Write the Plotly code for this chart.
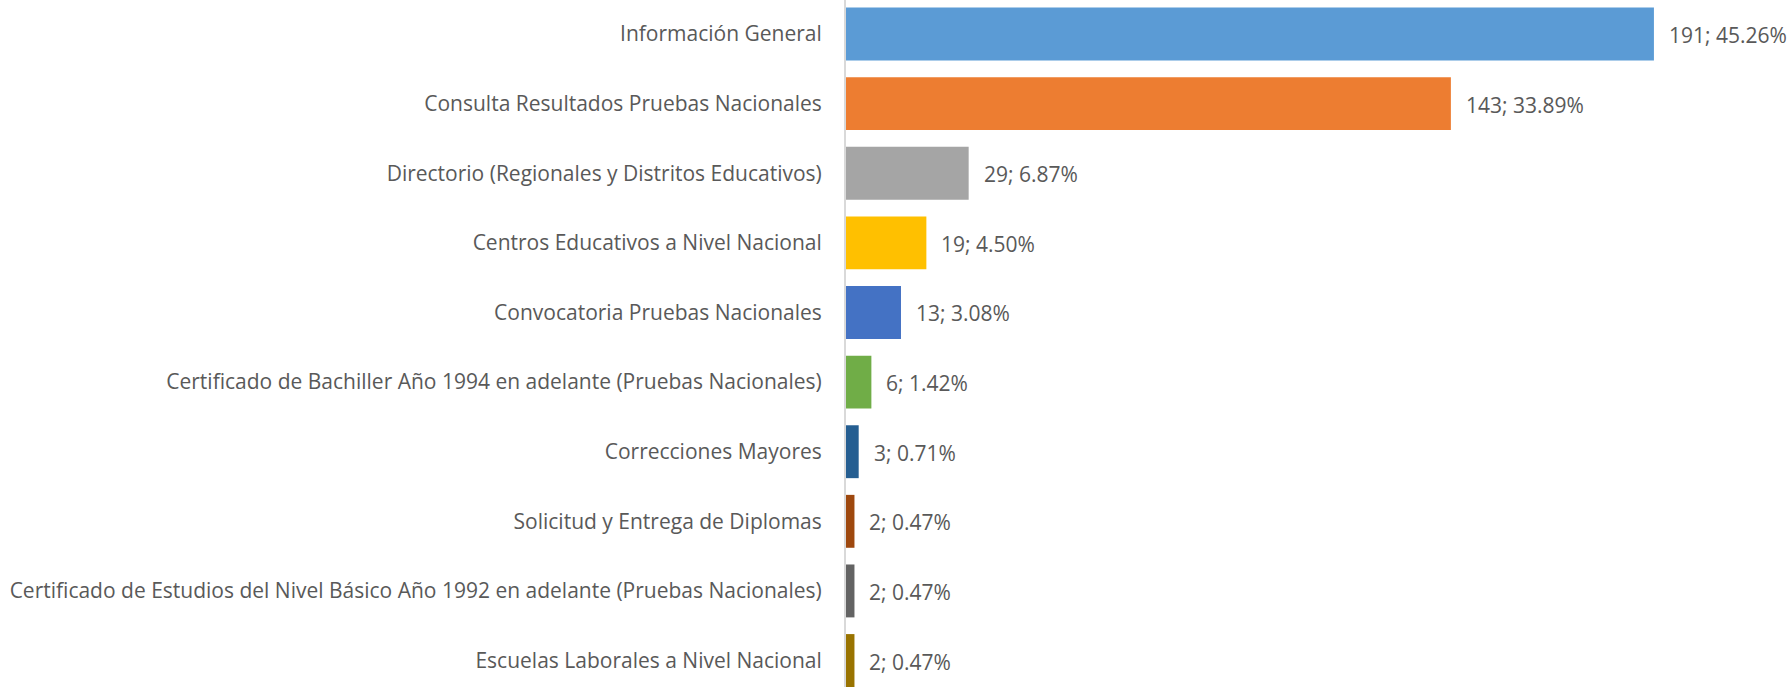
import plotly.graph_objects as go

categories = [
    "Información General",
    "Consulta Resultados Pruebas Nacionales",
    "Directorio (Regionales y Distritos Educativos)",
    "Centros Educativos a Nivel Nacional",
    "Convocatoria Pruebas Nacionales",
    "Certificado de Bachiller Año 1994 en adelante (Pruebas Nacionales)",
    "Correcciones Mayores",
    "Solicitud y Entrega de Diplomas",
    "Certificado de Estudios del Nivel Básico Año 1992 en adelante (Pruebas Nacionales)",
    "Escuelas Laborales a Nivel Nacional",
]
counts = [191, 143, 29, 19, 13, 6, 3, 2, 2, 2]
percents = ["45.26%", "33.89%", "6.87%", "4.50%", "3.08%", "1.42%", "0.71%", "0.47%", "0.47%", "0.47%"]
colors = ["#5B9BD5", "#ED7D31", "#A5A5A5", "#FFC000", "#4472C4", "#70AD47",
          "#255E91", "#9E480E", "#636363", "#997300"]

FONT = "'Open Sans', sans-serif"
TXT = "#595959"
FS = 21

fig = go.Figure()
fig.add_trace(go.Bar(
    y=categories, x=counts, orientation="h",
    marker=dict(color=colors, line=dict(width=0)),
    hoverinfo="skip",
))

for c, v, p in zip(categories, counts, percents):
    fig.add_annotation(x=v, y=c, text=f"{v}; {p}", showarrow=False,
                       xanchor="left", xshift=13, yshift=-1,
                       font=dict(family=FONT, size=FS, color=TXT))

fig.update_layout(
    width=1792, height=687,
    margin=dict(l=846, r=100, t=0, b=0),
    paper_bgcolor="white", plot_bgcolor="white",
    bargap=0.24,
    showlegend=False,
    font=dict(family=FONT, size=FS, color=TXT),
)
fig.update_xaxes(range=[0, 200], visible=False, showgrid=False, zeroline=False)
fig.update_yaxes(
    categoryorder="array", categoryarray=categories,
    range=[9.38, -0.489],
    showline=True, linecolor="#D9D9D9", linewidth=2,
    ticks="", ticklabelstandoff=18,
    showgrid=False, zeroline=False,
    tickfont=dict(family=FONT, size=FS, color=TXT),
)

fig.write_html("out.html", config={"displayModeBar": False},
               post_script="document.body.style.margin='0';document.body.style.padding='0';")
